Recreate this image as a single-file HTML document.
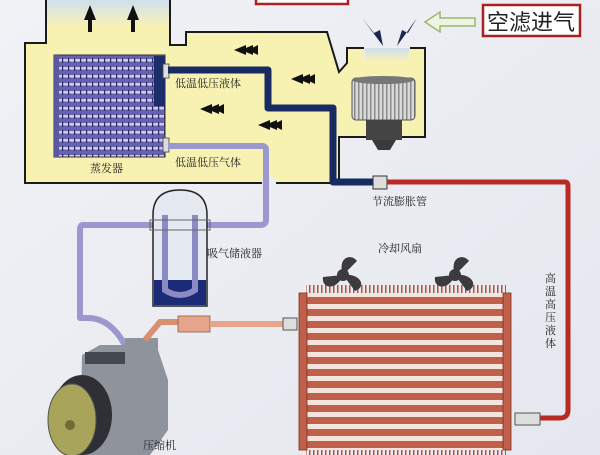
<!DOCTYPE html>
<html><head><meta charset="utf-8"><style>
html,body{margin:0;padding:0;background:#eceef3;}
svg{display:block}
text{font-family:"Liberation Serif","Noto Serif CJK SC",serif;fill:#222;}
</style></head><body>
<svg width="600" height="455" viewBox="0 0 600 455" xmlns="http://www.w3.org/2000/svg">
<defs>
<linearGradient id="bg" x1="0" y1="0" x2="1" y2="1"><stop offset="0" stop-color="#f1f2f6"/><stop offset="1" stop-color="#e4e7ee"/></linearGradient>
<linearGradient id="sky" x1="0" y1="0" x2="0" y2="1"><stop offset="0" stop-color="#cfe0ee"/><stop offset="1" stop-color="#f7f1b8"/></linearGradient>
<pattern id="evap" width="6" height="8" patternUnits="userSpaceOnUse"><rect width="6" height="8" fill="#6662b0"/><rect y="3" width="6" height="2.5" fill="#cfcde8"/><rect x="2" y="2" width="1.2" height="5" fill="#2a2a60"/></pattern>
<pattern id="cond" width="212" height="12" patternUnits="userSpaceOnUse"><rect width="212" height="12" fill="#c0604a"/><rect x="0" y="4" width="212" height="5" fill="#f4e4de"/></pattern>
<pattern id="fins" width="4" height="12" patternUnits="userSpaceOnUse"><rect width="4" height="12" fill="#e9ebf0"/><rect x="1" width="1.5" height="12" fill="#b5503e"/></pattern>
<pattern id="fan" width="4" height="10" patternUnits="userSpaceOnUse"><rect width="4" height="10" fill="#d9d9d9"/><rect x="2" width="1.5" height="10" fill="#8a8a8a"/></pattern>
</defs>
<rect width="600" height="455" fill="url(#bg)"/>
<rect x="256" y="-4" width="92" height="8" fill="#fff" stroke="#b02020" stroke-width="2.5"/>
<path d="M46,0 L170,0 L170,45 L186,45 L186,32 L327,32 L339,72 L347,63 L347,48 L364,48 L364,60 L410,60 L410,48 L425,48 L425,137 L339,137 L339,183 L276,183 L276,178 L262,178 L262,183 L25,183 L25,43 L46,43 Z" fill="#f7f1b2"/>
<rect x="47" y="0" width="122" height="26" fill="url(#sky)"/>
<rect x="365" y="48" width="44" height="14" fill="url(#sky)"/>
<path d="M46,0 L46,43 L25,43 L25,183 L262,183 M276,183 L339,183 L339,137 L425,137 L425,48 L410,48 M364,48 L347,48 L347,63 L339,72 L327,32 L186,32 L186,45 L170,45 L170,0" fill="none" stroke="#1a1a1a" stroke-width="2"/>
<path d="M90,5 L84,20 L88,20 L88,32 L92,32 L92,20 L96,20 Z" fill="#111"/>
<path d="M133,5 L127,20 L131,20 L131,32 L135,32 L135,20 L139,20 Z" fill="#111"/>
<g fill="#111">
<path d="M234,50 L246,45 L246,55 Z M241,50 L253,45 L253,55 Z M248,50 L258,45 L258,55 Z"/>
<path d="M291,79 L303,74 L303,84 Z M298,79 L310,74 L310,84 Z M305,79 L315,74 L315,84 Z"/>
<path d="M200,109 L212,104 L212,114 Z M207,109 L219,104 L219,114 Z M214,109 L224,104 L224,114 Z"/>
<path d="M258,125 L270,120 L270,130 Z M265,125 L277,120 L277,130 Z M272,125 L282,120 L282,130 Z"/>
</g>
<g fill="#1c2750">
<path d="M362,18 L383,46 L380,30 L374,33 Z"/>
<path d="M417,18 L397,46 L402,30 L408,33 Z"/>
</g>
<path d="M425,22 L440,12 L440,18 L475,18 L475,26 L440,26 L440,32 Z" fill="#eef4e4" stroke="#9cb86e" stroke-width="1.5"/>
<rect x="483" y="5" width="97" height="31" fill="#fff" stroke="#a82020" stroke-width="2.5"/>
<text x="531" y="30" font-size="22" text-anchor="middle" style="font-family:'Liberation Sans','Noto Sans CJK SC',sans-serif">空滤进气</text>
<rect x="352" y="78" width="63" height="42" rx="4" fill="url(#fan)" stroke="#555"/>
<ellipse cx="383" cy="80" rx="31" ry="4" fill="#777"/>
<rect x="366" y="120" width="36" height="20" fill="#444"/>
<path d="M372,140 L396,140 L390,150 L378,150 Z" fill="#3a3a3a"/>
<rect x="54" y="55" width="111" height="102" fill="url(#evap)" stroke="#333"/>
<rect x="154" y="56" width="11" height="50" fill="#1a2d6a"/>
<rect x="54" y="55" width="5" height="102" fill="#5a56a0"/>
<rect x="163" y="64" width="6" height="14" fill="#ddd" stroke="#444" stroke-width="0.8"/>
<rect x="163" y="138" width="6" height="14" fill="#ddd" stroke="#444" stroke-width="0.8"/>
<text x="90" y="172" font-size="11">蒸发器</text>
<text x="175" y="87" font-size="11">低温低压液体</text>
<text x="175" y="166" font-size="11">低温低压气体</text>
<path d="M168,70 L268,70 L268,108 L333,108 L333,182 L373,182" fill="none" stroke="#172a62" stroke-width="7" stroke-linejoin="round"/>
<rect x="373" y="176" width="14" height="13" fill="#ddd" stroke="#333"/>
<path d="M387,182 L565,182 Q568,182 568,186 L568,410 Q568,418 560,418 L540,418" fill="none" stroke="#b92a22" stroke-width="5"/>
<text x="372" y="205" font-size="11">节流膨胀管</text>
<path d="M168,146 L262,146 Q266,146 266,150 L266,220 Q266,225 260,225 L83,225 Q80,225 80,230 L80,318 L88,318 Q110,318 125,345" fill="none" stroke="#9a98cc" stroke-width="6" stroke-linejoin="round"/>
<path d="M153,215 Q153,190 180,190 Q207,190 207,215 L207,306 L153,306 Z" fill="#e4e8f0" stroke="#222" stroke-width="1.5"/>
<rect x="154" y="280" width="52" height="25" fill="#1c2b78"/>
<path d="M165,215 L165,290 Q180,300 195,290 L195,215" fill="none" stroke="#8c8ac2" stroke-width="6"/>
<rect x="150" y="220" width="60" height="10" fill="none" stroke="#666" stroke-width="1"/>
<text x="207" y="257" font-size="11">吸气储液器</text>
<path d="M82,355 L100,345 L125,345 L125,338 L158,338 L158,350 L168,380 L168,430 L150,455 L80,455 Z" fill="#8e939c"/>
<rect x="85" y="352" width="40" height="12" fill="#44484f"/>
<ellipse cx="82" cy="415" rx="30" ry="40" fill="#2e3035"/>
<ellipse cx="72" cy="420" rx="24" ry="36" fill="#a8a55a" stroke="#555"/>
<circle cx="70" cy="425" r="5" fill="#6e6c3a"/>
<text x="143" y="449" font-size="11">压缩机</text>
<path d="M145,340 L160,322 L180,322" fill="none" stroke="#d9906e" stroke-width="6"/>
<rect x="178" y="316" width="32" height="16" fill="#e6a58a" stroke="#8a5a4a" stroke-width="0.8"/>
<rect x="210" y="321" width="75" height="6" fill="#e6a58a"/>
<rect x="283" y="318" width="14" height="12" fill="#ddd" stroke="#555"/>
<rect x="306" y="285" width="200" height="170" fill="url(#fins)"/>
<rect x="299" y="293" width="212" height="157" fill="url(#cond)"/>
<rect x="299" y="293" width="8" height="157" fill="#c0604a" stroke="#7a3020" stroke-width="0.8"/>
<rect x="503" y="293" width="8" height="157" fill="#c0604a" stroke="#7a3020" stroke-width="0.8"/>
<rect x="515" y="413" width="25" height="12" fill="#ddd" stroke="#555"/>
<g fill="#3a3a3f">
<g transform="translate(343,275)">
<path d="M0,0 C-6,-18 8,-22 14,-14 Z"/><path d="M0,0 C18,-2 24,12 12,16 Z"/><path d="M0,0 C-6,16 -22,14 -20,2 Z"/><circle r="6"/>
</g>
<g transform="translate(455,275)">
<path d="M0,0 C-6,-18 8,-22 14,-14 Z"/><path d="M0,0 C18,-2 24,12 12,16 Z"/><path d="M0,0 C-6,16 -22,14 -20,2 Z"/><circle r="6"/>
</g>
</g>
<text x="378" y="252" font-size="11">冷却风扇</text>
<g font-size="11"><text x="545" y="282">高</text><text x="545" y="295">温</text><text x="545" y="308">高</text><text x="545" y="321">压</text><text x="545" y="334">液</text><text x="545" y="347">体</text></g>
</svg>
</body></html>
